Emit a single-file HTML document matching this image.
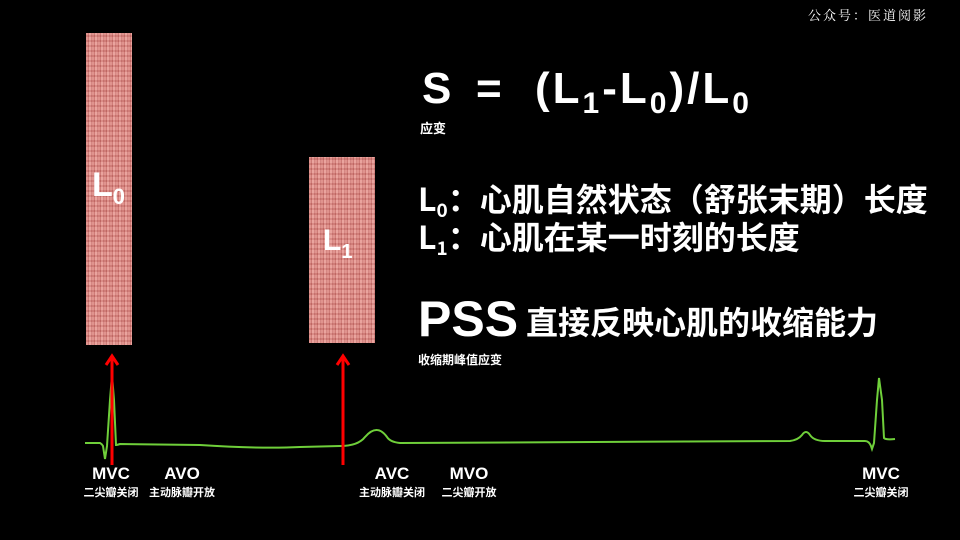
<!DOCTYPE html><html><head><meta charset="utf-8"><style>
body{margin:0;background:#000;width:960px;height:540px;overflow:hidden;position:relative;font-family:"Liberation Sans","Noto Sans CJK SC",sans-serif;color:#fff}
.t{position:absolute;white-space:nowrap;font-weight:bold}
.cj{font-family:"Noto Sans CJK SC",sans-serif}
.bar{position:absolute;background:repeating-linear-gradient(90deg,#dc8a84 0 2px,#c9706c 2px 3px,#e89c96 3px 5px,#d07c78 5px 6px)}
.bar:after{content:"";position:absolute;inset:0;background:repeating-linear-gradient(0deg,rgba(255,230,230,.1) 0 3px,rgba(120,30,30,.12) 3px 5px)}
.c{text-align:center;transform:translateX(-50%)}
</style></head><body>
<div class="t" style="left:808px;top:5px;font-size:13px;font-weight:normal;font-family:'Noto Serif CJK SC',serif;letter-spacing:2px">公众号：医道阅影</div>
<div class="bar" style="left:86px;top:33px;width:46px;height:312px"></div>
<div class="bar" style="left:309px;top:157px;width:66px;height:186px"></div>
<div class="t" style="left:92px;top:166px;font-size:34px">L<span style="font-size:22px;vertical-align:-8px">0</span></div>
<div class="t" style="left:323px;top:224px;font-size:30px">L<span style="font-size:20px;vertical-align:-8px">1</span></div>
<div class="t" style="left:422px;top:64px;font-size:44px">S</div>
<div class="t cj" style="left:420px;top:118px;font-size:13px">应变</div>
<div class="t" style="left:476px;top:64px;font-size:44px">=</div>
<div class="t" style="left:535px;top:64px;font-size:44px;letter-spacing:3px">(L<span style="font-size:30px;vertical-align:-10px">1</span>-L<span style="font-size:30px;vertical-align:-10px">0</span>)/L<span style="font-size:30px;vertical-align:-10px">0</span></div>
<div class="t cj" style="left:418px;top:176px;font-size:32px;line-height:44px">L<span style="font-size:19px;vertical-align:-6px">0</span>：心肌自然状态（舒张末期）长度</div>
<div class="t cj" style="left:418px;top:214px;font-size:32px;line-height:44px">L<span style="font-size:19px;vertical-align:-6px">1</span>：心肌在某一时刻的长度</div>
<div class="t" style="left:418px;top:290px;font-size:50px">PSS</div>
<div class="t cj" style="left:526px;top:299px;font-size:32px;line-height:44px">直接反映心肌的收缩能力</div>
<div class="t cj" style="left:418px;top:351px;font-size:12px">收缩期峰值应变</div>
<svg width="960" height="540" style="position:absolute;left:0;top:0">
<path fill="none" stroke="#6fcf3a" stroke-width="2" d="M85,443 L100,443 Q102,444 103,446 L105,459 L107,446 L110,400 L112,375 L114,400 L116,445 Q117,445 120,444 L200,445 Q260,449 300,447 L340,446 Q358,446 365,437 Q377,423 387,437 Q390,442 400,443 L790,441 Q798,440 802,435 Q806,429 810,435 Q814,441 825,441 L865,441 Q869,441 871,446 L872,449 L874,443 L877,400 L879,378 L882,400 L884,438 Q886,440 895,439"/>
<g stroke="#ff0000" stroke-width="3" fill="none"><line x1="112" y1="465" x2="112" y2="356"/><polyline points="106,365 112,356 118,365"/><line x1="343" y1="465" x2="343" y2="356"/><polyline points="337,365 343,356 349,365"/></g>
</svg>
<div class="t c" style="left:111px;top:464px;font-size:17px">MVC</div>
<div class="t c cj" style="left:111px;top:484px;font-size:11px">二尖瓣关闭</div>
<div class="t c" style="left:182px;top:464px;font-size:17px">AVO</div>
<div class="t c cj" style="left:182px;top:484px;font-size:11px">主动脉瓣开放</div>
<div class="t c" style="left:392px;top:464px;font-size:17px">AVC</div>
<div class="t c cj" style="left:392px;top:484px;font-size:11px">主动脉瓣关闭</div>
<div class="t c" style="left:469px;top:464px;font-size:17px">MVO</div>
<div class="t c cj" style="left:469px;top:484px;font-size:11px">二尖瓣开放</div>
<div class="t c" style="left:881px;top:464px;font-size:17px">MVC</div>
<div class="t c cj" style="left:881px;top:484px;font-size:11px">二尖瓣关闭</div>
</body></html>
